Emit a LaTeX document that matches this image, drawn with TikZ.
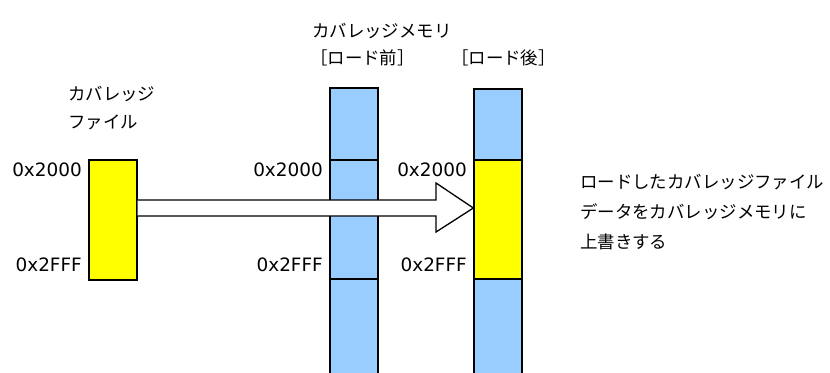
\documentclass[tikz,border=0pt]{standalone}
\usepackage{fontspec}
\usetikzlibrary{calc}
\newfontfamily\jpfont{Noto Sans CJK JP}
\newfontfamily\hexfont{DejaVu Sans}
\definecolor{memblue}{HTML}{99CCFF}
\definecolor{fileyellow}{HTML}{FFFF00}
\begin{document}
\begin{tikzpicture}[x=1bp,y=-1bp,
  seg/.style={draw=black,line width=1.3bp},
  jptext/.style={font=\jpfont\fontsize{17.5}{28}\selectfont,inner sep=0pt,anchor=west,align=left},
  hexlabel/.style={font=\hexfont\fontsize{18.5}{20}\selectfont,inner sep=0pt,anchor=east},
  blockarrow/.style={draw=black,line width=1.3bp,line join=miter}
]
\useasboundingbox (0,0) rectangle (830,372);
\clip (0,0) rectangle (830,372);

% coverage file
\node[seg,fill=fileyellow,minimum width=48bp,minimum height=120bp,inner sep=0pt] (file) at (113,220) {};

% memory before load
\draw[seg,fill=memblue] (330,88) rectangle (378,160);
\draw[seg,fill=memblue] (330,160) rectangle (378,279);
\draw[seg,fill=memblue] (330,279) rectangle (378,380);

% memory after load
\draw[seg,fill=memblue] (474,89) rectangle (522,160);
\node[seg,fill=fileyellow,minimum width=48bp,minimum height=119bp,inner sep=0pt] (after) at (498,219.5) {};
\draw[seg,fill=memblue] (474,279) rectangle (522,380);

% block arrow from file to memory after
\coordinate (tip) at (after.west |- 0,208);
\coordinate (s1) at ($(file.east)+(0,-20)$);
\coordinate (s2) at ($(file.east)+(0,-4)$);
\fill[white] (s1) -- (436,200) -- (436,183) -- (tip) -- (436,232) -- (436,216) -- (s2) -- cycle;
\draw[blockarrow] (s1) -- (436,200) -- (436,183) -- (tip) -- (436,232) -- (436,216) -- (s2);

% labels
\node[jptext] (filelbl) at (68,108) {カバレッジ\\ファイル};
\node[jptext] (memlbl) at (312,31) {カバレッジメモリ};
\node[jptext] (beforelbl) at (310,58) {［ロード前］};
\node[jptext] (afterlbl) at (451,58) {［ロード後］};
\node[jptext,font=\jpfont\fontsize{17.5}{30}\selectfont] (note) at (580,212) {ロードしたカバレッジファイル\\データをカバレッジメモリに\\上書きする};

\node[hexlabel] (f1) at (82,170) {0x2000};
\node[hexlabel] (f2) at (82,265) {0x2FFF};
\node[hexlabel] (b1) at (323,170) {0x2000};
\node[hexlabel] (b2) at (323,265) {0x2FFF};
\node[hexlabel] (c1) at (467,170) {0x2000};
\node[hexlabel] (c2) at (467,265) {0x2FFF};
\end{tikzpicture}
\end{document}
